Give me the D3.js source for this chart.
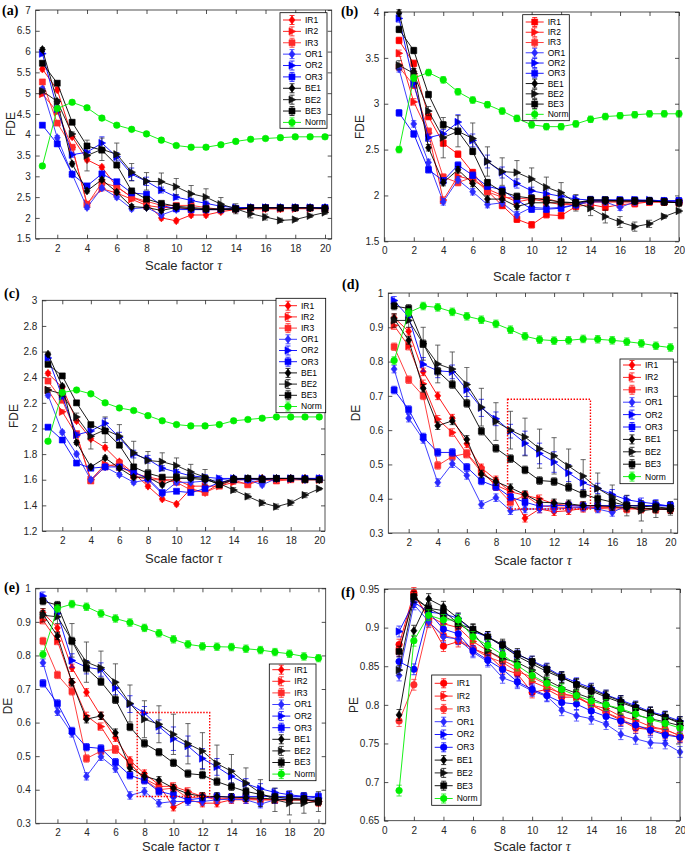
<!DOCTYPE html>
<html><head><meta charset="utf-8">
<script src="https://cdn.jsdelivr.net/npm/d3@7"></script>
<style>body{margin:0;background:#fff}svg{display:block}</style>
</head><body>
<svg id="chart" width="685" height="855"></svg>
<script>
// ---------- shared ----------
const tau = [1,2,3,4,5,6,7,8,9,10,11,12,13,14,15,16,17,18,19,20];
const seriesNames = ["IR1","IR2","IR3","OR1","OR2","OR3","BE1","BE2","BE3","Norm"];
const seriesColors = ["#ff0000","#ff1010","#ff2a2a","#2a2aff","#0000ff","#0000ff","#000000","#111111","#000000","#00ee00"];
const panelLabels = ["(a)","(b)","(c)","(d)","(e)","(f)"];
const yLabels = ["FDE","FDE","FDE","DE","DE","PE"];
const xTicksA = [2,4,6,8,10,12,14,16,18,20];
const xTicksB = [0,2,4,6,8,10,12,14,16,18,20];
const yTicksA = [1.5,2,2.5,3,3.5,4,4.5,5,5.5,6,6.5,7];
const yTicksB = [1.5,2,2.5,3,3.5,4];
const yTicksC = [1.2,1.4,1.6,1.8,2,2.2,2.4,2.6,2.8,3];
const yTicksDE = [0.3,0.4,0.5,0.6,0.7,0.8,0.9,1];
const yTicksF = [0.65,0.7,0.75,0.8,0.85,0.9,0.95];

// ---------- panel (a) ----------
const A_IR1 = [5.58,5.08,3.95,3.4,3.22,2.75,2.5,2.35,2.0,1.93,2.07,2.07,2.15,2.2,2.22,2.22,2.22,2.24,2.24,2.24];
const A_IR2 = [4.98,4.55,3.7,2.35,2.7,2.6,2.45,2.3,2.25,2.25,2.22,2.2,2.2,2.22,2.22,2.22,2.22,2.22,2.22,2.22];
const A_IR3 = [5.27,4.28,3.7,2.32,2.85,2.75,2.5,2.4,2.3,2.3,2.3,2.25,2.2,2.22,2.25,2.25,2.22,2.24,2.24,2.22];
const A_OR1 = [5.1,3.93,3.05,2.25,2.72,2.5,2.22,2.25,2.07,2.2,2.2,2.2,2.2,2.22,2.25,2.25,2.25,2.25,2.25,2.25];
const A_OR2 = [5.95,4.62,3.52,3.58,3.8,3.47,3.05,2.88,2.67,2.5,2.42,2.35,2.28,2.25,2.25,2.25,2.25,2.25,2.25,2.23];
const A_OR3 = [4.23,3.78,3.05,2.77,3.06,2.87,2.6,2.57,2.3,2.22,2.2,2.2,2.2,2.22,2.25,2.25,2.25,2.25,2.25,2.25];
const A_BE1 = [6.05,4.8,3.3,2.65,2.92,2.62,2.27,2.25,2.18,2.25,2.22,2.2,2.2,2.2,2.24,2.24,2.24,2.24,2.24,2.24];
const A_BE2 = [5.05,4.8,4.02,3.5,3.65,3.53,3.1,2.88,2.87,2.75,2.58,2.5,2.33,2.22,2.1,2.02,1.94,1.96,2.05,2.13];
const A_BE3 = [5.72,5.24,4.3,3.73,3.63,3.27,2.65,2.45,2.35,2.28,2.25,2.22,2.22,2.22,2.24,2.24,2.24,2.24,2.24,2.22];
const A_Norm = [3.25,4.63,4.78,4.65,4.4,4.23,4.13,4.02,3.87,3.74,3.7,3.7,3.76,3.84,3.89,3.91,3.93,3.95,3.95,3.95];
const A_errOR2 = [0.05,0.05,0.06,0.1,0.15,0.1,0.15,0.1,0.07,0.06,0.05,0.05,0.05,0.05,0.05,0.05,0.05,0.05,0.05,0.05];
const A_errBE2 = [0.05,0.05,0.05,0.37,0.27,0.27,0.21,0.21,0.21,0.2,0.2,0.2,0.16,0.12,0.1,0.07,0.05,0.04,0.04,0.04];
const A_errSmall = 0.05;

// ---------- panel (b) ----------
const B_IR1 = [3.69,3.44,2.86,2.57,2.45,2.25,2.05,1.89,1.74,1.68,1.79,1.78,1.88,1.9,1.87,1.9,1.91,1.93,1.93,1.93];
const B_IR2 = [3.55,3.02,2.68,1.95,2.21,2.17,2.07,2.0,1.93,1.96,1.93,1.9,1.9,1.93,1.93,1.93,1.93,1.93,1.93,1.92];
const B_IR3 = [3.4,3.2,2.7,2.2,2.14,2.2,2.04,1.98,1.97,1.96,1.97,1.92,1.9,1.93,1.93,1.93,1.93,1.93,1.93,1.93];
const B_OR1 = [3.38,2.78,2.36,1.93,2.17,2.04,1.9,1.92,1.79,1.87,1.86,1.87,1.9,1.93,1.93,1.87,1.93,1.94,1.94,1.94];
const B_OR2 = [3.93,3.22,2.63,2.67,2.8,2.6,2.37,2.25,2.13,2.05,2.02,1.99,1.96,1.95,1.95,1.95,1.95,1.95,1.94,1.94];
const B_OR3 = [2.9,2.67,2.28,2.16,2.33,2.22,2.1,2.06,1.95,1.85,1.85,1.86,1.9,1.95,1.95,1.95,1.95,1.94,1.94,1.94];
const B_BE1 = [3.99,3.35,2.52,2.14,2.28,2.13,1.96,1.96,1.88,1.92,1.92,1.92,1.92,1.94,1.94,1.94,1.94,1.94,1.93,1.92];
const B_BE2 = [3.42,3.33,2.92,2.63,2.7,2.62,2.37,2.26,2.25,2.18,2.09,2.03,1.92,1.86,1.77,1.71,1.66,1.69,1.77,1.83];
const B_BE3 = [3.81,3.58,3.1,2.77,2.7,2.48,2.14,2.04,1.99,1.97,1.95,1.93,1.92,1.95,1.95,1.94,1.94,1.94,1.93,1.92];
const B_Norm = [2.5,3.28,3.34,3.26,3.13,3.04,2.99,2.92,2.84,2.77,2.75,2.75,2.78,2.83,2.86,2.87,2.88,2.89,2.89,2.89];
const B_errOR2 = [0.04,0.04,0.04,0.05,0.08,0.07,0.07,0.06,0.05,0.04,0.04,0.04,0.04,0.04,0.03,0.03,0.03,0.03,0.03,0.03];
const B_errBE2 = [0.05,0.05,0.05,0.22,0.17,0.17,0.16,0.15,0.13,0.12,0.11,0.11,0.09,0.08,0.07,0.06,0.05,0.04,0.02,0.02];
const B_errSmall = 0.035;

// ---------- panel (c) ----------
const C_IR1 = [2.43,2.32,2.06,1.92,1.85,1.74,1.65,1.55,1.45,1.41,1.53,1.5,1.57,1.6,1.6,1.61,1.6,1.61,1.61,1.61];
const C_IR2 = [2.3,2.13,1.95,1.6,1.72,1.7,1.65,1.62,1.6,1.6,1.55,1.55,1.55,1.58,1.57,1.6,1.6,1.6,1.6,1.6];
const C_IR3 = [2.37,2.22,1.96,1.59,1.7,1.73,1.63,1.6,1.6,1.58,1.52,1.5,1.55,1.6,1.56,1.6,1.59,1.6,1.6,1.6];
const C_OR1 = [2.26,1.97,1.8,1.6,1.7,1.64,1.58,1.6,1.49,1.58,1.58,1.59,1.6,1.61,1.6,1.56,1.61,1.61,1.6,1.61];
const C_OR2 = [2.55,2.25,1.95,1.98,2.04,1.93,1.8,1.76,1.69,1.66,1.63,1.62,1.61,1.61,1.61,1.61,1.61,1.61,1.61,1.61];
const C_OR3 = [2.01,1.91,1.73,1.69,1.7,1.7,1.66,1.61,1.5,1.51,1.5,1.53,1.58,1.6,1.6,1.6,1.61,1.61,1.61,1.61];
const C_BE1 = [2.58,2.33,1.89,1.7,1.77,1.69,1.62,1.62,1.56,1.61,1.61,1.6,1.57,1.61,1.61,1.61,1.61,1.61,1.61,1.6];
const C_BE2 = [2.3,2.27,2.09,1.94,1.99,1.94,1.81,1.75,1.74,1.71,1.66,1.62,1.57,1.52,1.47,1.42,1.39,1.42,1.48,1.53];
const C_BE3 = [2.5,2.41,2.2,2.03,1.98,1.87,1.7,1.65,1.62,1.62,1.62,1.61,1.56,1.6,1.61,1.6,1.61,1.61,1.6,1.6];
const C_Norm = [1.9,2.28,2.3,2.27,2.2,2.16,2.14,2.1,2.06,2.03,2.02,2.02,2.03,2.06,2.07,2.08,2.09,2.09,2.09,2.09];
const C_errOR2 = [0.02,0.02,0.02,0.03,0.04,0.04,0.03,0.03,0.02,0.02,0.02,0.02,0.02,0.02,0.02,0.02,0.02,0.02,0.02,0.02];
const C_errBE2 = [0.02,0.02,0.03,0.1,0.1,0.09,0.09,0.07,0.07,0.06,0.06,0.06,0.03,0.02,0.02,0.02,0.02,0.02,0.02,0.01];
const C_errSmall = 0.015;

// ---------- panel (d) ----------
const D_IR1 = [0.928,0.888,0.77,0.7,0.635,0.56,0.49,0.455,0.42,0.343,0.37,0.362,0.365,0.372,0.375,0.375,0.372,0.372,0.37,0.368];
const D_IR2 = [0.905,0.845,0.735,0.632,0.593,0.53,0.478,0.44,0.42,0.41,0.4,0.385,0.38,0.38,0.378,0.375,0.372,0.37,0.37,0.37];
const D_IR3 = [0.843,0.747,0.7,0.497,0.523,0.532,0.485,0.435,0.39,0.41,0.38,0.375,0.375,0.375,0.372,0.37,0.37,0.37,0.37,0.37];
const D_OR1 = [0.778,0.635,0.573,0.447,0.502,0.468,0.383,0.403,0.365,0.37,0.37,0.37,0.372,0.375,0.37,0.36,0.38,0.38,0.38,0.378];
const D_OR2 = [0.978,0.93,0.792,0.773,0.77,0.718,0.665,0.633,0.597,0.562,0.532,0.507,0.475,0.447,0.43,0.412,0.397,0.39,0.385,0.378];
const D_OR3 = [0.717,0.66,0.58,0.535,0.535,0.492,0.452,0.435,0.405,0.39,0.378,0.38,0.38,0.378,0.38,0.38,0.38,0.38,0.38,0.38];
const D_BE1 = [0.925,0.862,0.722,0.613,0.627,0.573,0.472,0.45,0.432,0.412,0.39,0.388,0.385,0.38,0.38,0.377,0.375,0.373,0.37,0.368];
const D_BE2 = [0.92,0.92,0.852,0.793,0.778,0.733,0.667,0.625,0.6,0.58,0.546,0.525,0.495,0.466,0.43,0.405,0.38,0.365,0.37,0.372];
const D_BE3 = [0.962,0.955,0.852,0.772,0.733,0.678,0.597,0.547,0.517,0.484,0.453,0.45,0.433,0.414,0.4,0.39,0.38,0.378,0.376,0.372];
const D_Norm = [0.803,0.943,0.962,0.958,0.945,0.932,0.922,0.91,0.893,0.874,0.864,0.861,0.862,0.866,0.865,0.862,0.858,0.853,0.846,0.841];
const D_errOR2 = [0.012,0.012,0.02,0.02,0.02,0.02,0.025,0.02,0.02,0.035,0.03,0.03,0.025,0.02,0.015,0.015,0.012,0.012,0.012,0.012];
const D_errBE2 = [0.02,0.02,0.048,0.055,0.05,0.05,0.055,0.055,0.055,0.055,0.057,0.053,0.05,0.048,0.045,0.035,0.03,0.03,0.025,0.02];
const D_errSmall = 0.011;
const D_zoomBox = [8.8,14.5,0.37,0.69];

// ---------- panel (e) ----------
const E_IR1 = [0.928,0.882,0.763,0.69,0.62,0.555,0.487,0.448,0.415,0.348,0.37,0.36,0.36,0.37,0.37,0.37,0.37,0.37,0.37,0.362];
const E_IR2 = [0.905,0.843,0.72,0.62,0.588,0.52,0.478,0.433,0.41,0.41,0.395,0.38,0.375,0.375,0.375,0.372,0.37,0.37,0.37,0.365];
const E_IR3 = [0.843,0.742,0.693,0.493,0.515,0.52,0.48,0.43,0.4,0.405,0.375,0.38,0.37,0.375,0.375,0.37,0.37,0.37,0.37,0.365];
const E_OR1 = [0.778,0.632,0.568,0.44,0.498,0.463,0.383,0.395,0.36,0.365,0.365,0.365,0.37,0.372,0.37,0.357,0.37,0.375,0.375,0.37];
const E_OR2 = [0.977,0.925,0.785,0.765,0.758,0.703,0.655,0.628,0.588,0.552,0.53,0.493,0.468,0.44,0.418,0.403,0.392,0.385,0.38,0.375];
const E_OR3 = [0.717,0.657,0.575,0.527,0.523,0.482,0.443,0.428,0.395,0.385,0.37,0.375,0.38,0.378,0.38,0.38,0.38,0.38,0.38,0.38];
const E_BE1 = [0.923,0.858,0.72,0.61,0.62,0.57,0.465,0.44,0.428,0.405,0.388,0.38,0.38,0.378,0.376,0.375,0.372,0.37,0.37,0.365];
const E_BE2 = [0.92,0.915,0.845,0.78,0.763,0.72,0.657,0.61,0.595,0.565,0.537,0.515,0.478,0.455,0.42,0.39,0.37,0.36,0.36,0.365];
const E_BE3 = [0.962,0.95,0.843,0.762,0.722,0.668,0.587,0.538,0.512,0.48,0.448,0.444,0.424,0.409,0.395,0.386,0.378,0.375,0.372,0.365];
const E_Norm = [0.803,0.94,0.953,0.945,0.925,0.91,0.898,0.882,0.866,0.848,0.833,0.827,0.826,0.825,0.82,0.816,0.81,0.805,0.797,0.792];
const E_errOR2 = [0.012,0.012,0.02,0.02,0.02,0.02,0.025,0.02,0.02,0.035,0.03,0.03,0.025,0.02,0.015,0.015,0.012,0.012,0.012,0.012];
const E_errBE2 = [0.02,0.02,0.05,0.06,0.05,0.055,0.055,0.055,0.055,0.06,0.06,0.055,0.055,0.05,0.045,0.04,0.035,0.035,0.03,0.03];
const E_errSmall = 0.011;
const E_zoomBox = [7.5,12.5,0.38,0.63];

// ---------- panel (f) ----------
const F_IR1 = [0.878,0.945,0.91,0.876,0.882,0.873,0.865,0.847,0.84,0.816,0.82,0.81,0.81,0.8,0.79,0.78,0.77,0.768,0.763,0.758];
const F_IR2 = [0.87,0.942,0.915,0.905,0.9,0.882,0.87,0.858,0.848,0.83,0.822,0.815,0.81,0.8,0.795,0.785,0.78,0.772,0.768,0.76];
const F_IR3 = [0.779,0.826,0.907,0.89,0.885,0.873,0.862,0.855,0.843,0.836,0.826,0.813,0.812,0.8,0.79,0.782,0.772,0.77,0.768,0.76];
const F_OR1 = [0.838,0.93,0.908,0.888,0.885,0.868,0.856,0.835,0.828,0.818,0.811,0.793,0.786,0.782,0.775,0.762,0.756,0.751,0.75,0.739];
const F_OR2 = [0.895,0.933,0.92,0.918,0.912,0.895,0.888,0.876,0.865,0.857,0.848,0.837,0.829,0.822,0.813,0.806,0.799,0.791,0.786,0.779];
const F_OR3 = [0.856,0.846,0.92,0.898,0.892,0.87,0.858,0.846,0.83,0.82,0.812,0.803,0.801,0.792,0.785,0.779,0.774,0.767,0.761,0.758];
const F_BE1 = [0.787,0.896,0.937,0.927,0.912,0.897,0.888,0.876,0.863,0.853,0.843,0.835,0.827,0.82,0.812,0.805,0.797,0.79,0.784,0.778];
const F_BE2 = [0.845,0.938,0.925,0.915,0.905,0.893,0.87,0.86,0.855,0.845,0.832,0.822,0.815,0.808,0.8,0.793,0.787,0.782,0.778,0.773];
const F_BE3 = [0.869,0.94,0.925,0.922,0.905,0.898,0.888,0.878,0.866,0.856,0.846,0.836,0.826,0.818,0.81,0.803,0.796,0.79,0.784,0.776];
const F_Norm = [0.689,0.883,0.916,0.91,0.91,0.888,0.877,0.865,0.851,0.838,0.828,0.82,0.812,0.805,0.8,0.795,0.788,0.781,0.776,0.77];
const F_errOR2 = [0.007,0.007,0.006,0.006,0.006,0.006,0.006,0.006,0.006,0.006,0.006,0.006,0.006,0.006,0.006,0.006,0.006,0.006,0.006,0.006];
const F_errBE2 = [0.006,0.006,0.006,0.006,0.006,0.006,0.006,0.006,0.006,0.006,0.006,0.006,0.006,0.006,0.006,0.006,0.006,0.006,0.006,0.006];
const F_errSmall = 0.007;

// ---------- layout ----------
const panels = [
  {label:0, data:[A_IR1,A_IR2,A_IR3,A_OR1,A_OR2,A_OR3,A_BE1,A_BE2,A_BE3,A_Norm], eOR2:A_errOR2, eBE2:A_errBE2, eS:A_errSmall,
   shapes:"dtsdtsdtsc", xd:[0.55,20.45], yd:[1.5,7], xt:xTicksA, yt:yTicksA, box:{l:35.7,r:331.7,t:10,b:238.7},
   leg:{x:280,y:12.7,w:47,h:115.6,y0:20,step:11.38}, lab:[2,15], ylab:[11,124], xlabY:270},
  {label:1, data:[B_IR1,B_IR2,B_IR3,B_OR1,B_OR2,B_OR3,B_BE1,B_BE2,B_BE3,B_Norm], eOR2:B_errOR2, eBE2:B_errBE2, eS:B_errSmall,
   shapes:"stsdtsdtsc", xd:[0,20], yd:[1.5,4], xt:xTicksB, yt:yTicksB, box:{l:384.3,r:679,t:12,b:241.3},
   leg:{x:522.7,y:14.7,w:46.6,h:106,y0:22,step:10.26}, lab:[341,16], ylab:[360,127], xlabY:281},
  {label:2, data:[C_IR1,C_IR2,C_IR3,C_OR1,C_OR2,C_OR3,C_BE1,C_BE2,C_BE3,C_Norm], eOR2:C_errOR2, eBE2:C_errBE2, eS:C_errSmall,
   shapes:"dtsdtsdtsc", xd:[0.6,20.4], yd:[1.2,3], xt:xTicksA, yt:yTicksC, box:{l:42.3,r:325,t:300.3,b:531},
   leg:{x:276,y:298.3,w:49.7,h:114.4,y0:305.7,step:11.2}, lab:[4,298], ylab:[14,416], xlabY:563},
  {label:3, data:[D_IR1,D_IR2,D_IR3,D_OR1,D_OR2,D_OR3,D_BE1,D_BE2,D_BE3,D_Norm], eOR2:D_errOR2, eBE2:D_errBE2, eS:D_errSmall,
   shapes:"dtsdtsdtsc", xd:[0.6,20.5], yd:[0.3,1], xt:xTicksA, yt:yTicksDE, box:{l:388.3,r:677.7,t:293,b:533},
   leg:{x:620,y:359,w:53.3,h:124.7,y0:365,step:12.4}, lab:[342,289], ylab:[356,413], xlabY:565, zoom:D_zoomBox},
  {label:4, data:[E_IR1,E_IR2,E_IR3,E_OR1,E_OR2,E_OR3,E_BE1,E_BE2,E_BE3,E_Norm], eOR2:E_errOR2, eBE2:E_errBE2, eS:E_errSmall,
   shapes:"dtsdtsdtsc", xd:[0.5,20.5], yd:[0.3,1], xt:xTicksA, yt:yTicksDE, box:{l:35.7,r:325.7,t:588.3,b:823.3},
   leg:{x:269.3,y:664,w:46.7,h:116.7,y0:669.7,step:11.6}, lab:[4,592], ylab:[8,706], xlabY:851, zoom:E_zoomBox},
  {label:5, data:[F_IR1,F_IR2,F_IR3,F_OR1,F_OR2,F_OR3,F_BE1,F_BE2,F_BE3,F_Norm], eOR2:F_errOR2, eBE2:F_errBE2, eS:F_errSmall,
   shapes:"ctcdtcdtsc", xd:[0,20], yd:[0.65,0.95], xt:xTicksB, yt:yTicksF, box:{l:384.3,r:680,t:589,b:820.7},
   leg:{x:431.7,y:675,w:49.3,h:130.3,y0:683.3,step:12.8}, lab:[341,597], ylab:[354,705], xlabY:851}
];

const svg = d3.select("#chart");
const SANS = "Arial, 'Liberation Sans', Helvetica, sans-serif";
const SERIF = "'Times New Roman', 'Liberation Serif', serif";
const AX = "#262626";
const fmt = v => String(+v.toFixed(2));

function shapePath(s){
  if (s === "d") return "M0,-4L3,0L0,4L-3,0Z";
  if (s === "t") return "M-3,-3.7L3.8,0L-3,3.7Z";
  if (s === "s") return "M-3,-3H3V3H-3Z";
  return d3.symbol(d3.symbolCircle, 34)();
}

function drawPanel(p){
  const b = p.box;
  const x = d3.scaleLinear().domain(p.xd).range([b.l, b.r]);
  const y = d3.scaleLinear().domain(p.yd).range([b.b, b.t]);
  const g = svg.append("g");

  g.append("rect").attr("x",b.l).attr("y",b.t).attr("width",b.r-b.l).attr("height",b.b-b.t)
    .attr("fill","#fff").attr("stroke","none");

  const styleAxis = sel => {
    sel.select(".domain").remove();
    sel.selectAll(".tick line").attr("stroke",AX).attr("stroke-width",0.8);
    sel.selectAll(".tick text").attr("fill",AX).attr("font-family",SANS).attr("font-size","10px");
  };
  g.append("g").attr("transform",`translate(0,${b.b})`)
    .call(d3.axisBottom(x).tickValues(p.xt).tickSize(-4).tickPadding(6).tickFormat(fmt)).call(styleAxis);
  g.append("g").attr("transform",`translate(0,${b.t})`)
    .call(d3.axisTop(x).tickValues(p.xt).tickSize(-4).tickFormat("")).call(styleAxis);
  g.append("g").attr("transform",`translate(${b.l},0)`)
    .call(d3.axisLeft(y).tickValues(p.yt).tickSize(-4).tickPadding(5).tickFormat(fmt)).call(styleAxis);
  g.append("g").attr("transform",`translate(${b.r},0)`)
    .call(d3.axisRight(y).tickValues(p.yt).tickSize(-4).tickFormat("")).call(styleAxis);

  const line = d3.line().x((d,i)=>x(tau[i])).y(d=>y(d));

  p.data.forEach((vals, si) => {
    const col = seriesColors[si];
    const err = si === 4 ? p.eOR2 : (si === 7 ? p.eBE2 : null);
    const sg = g.append("g");
    sg.append("path").datum(vals).attr("d",line).attr("fill","none").attr("stroke",col).attr("stroke-width",0.9);
    vals.forEach((v,i) => {
      const e = err ? err[i] : p.eS;
      const cx = x(tau[i]), y1 = y(v - e), y2 = y(v + e);
      const eg = sg.append("g").attr("stroke", col).attr("stroke-width",0.8).attr("opacity", si===7?0.8:0.9);
      eg.append("line").attr("x1",cx).attr("x2",cx).attr("y1",y1).attr("y2",y2);
      eg.append("line").attr("x1",cx-2.6).attr("x2",cx+2.6).attr("y1",y1).attr("y2",y1);
      eg.append("line").attr("x1",cx-2.6).attr("x2",cx+2.6).attr("y1",y2).attr("y2",y2);
    });
    sg.selectAll("path.m").data(vals).join("path").attr("class","m")
      .attr("d", shapePath(p.shapes[si]))
      .attr("transform",(d,i)=>`translate(${x(tau[i])},${y(d)})`)
      .attr("fill",col).attr("stroke",col).attr("stroke-width",0.6);
  });

  if (p.zoom){
    const z = p.zoom;
    g.append("rect").attr("x",x(z[0])).attr("y",y(z[3])).attr("width",x(z[1])-x(z[0])).attr("height",y(z[2])-y(z[3]))
      .attr("fill","none").attr("stroke","#ff0000").attr("stroke-width",1.4).attr("stroke-dasharray","1.5,1.5");
  }

  g.append("rect").attr("x",b.l).attr("y",b.t).attr("width",b.r-b.l).attr("height",b.b-b.t)
    .attr("fill","none").attr("stroke",AX).attr("stroke-width",0.8);

  // legend
  const L = p.leg;
  const lg = g.append("g");
  lg.append("rect").attr("x",L.x).attr("y",L.y).attr("width",L.w).attr("height",L.h)
    .attr("fill","#fff").attr("stroke","#000").attr("stroke-width",0.8);
  seriesNames.forEach((nm, si) => {
    const yy = L.y0 + si*L.step, col = seriesColors[si], mx = L.x + 12;
    lg.append("line").attr("x1",L.x+3).attr("x2",L.x+21).attr("y1",yy).attr("y2",yy).attr("stroke",col).attr("stroke-width",0.9);
    lg.append("line").attr("x1",mx).attr("x2",mx).attr("y1",yy-4.5).attr("y2",yy+4.5).attr("stroke",col).attr("stroke-width",0.8);
    lg.append("line").attr("x1",mx-2.5).attr("x2",mx+2.5).attr("y1",yy-4.5).attr("y2",yy-4.5).attr("stroke",col).attr("stroke-width",0.8);
    lg.append("line").attr("x1",mx-2.5).attr("x2",mx+2.5).attr("y1",yy+4.5).attr("y2",yy+4.5).attr("stroke",col).attr("stroke-width",0.8);
    lg.append("path").attr("d",shapePath(p.shapes[si])).attr("transform",`translate(${mx},${yy})`).attr("fill",col).attr("stroke",col).attr("stroke-width",0.6);
    lg.append("text").attr("x",L.x+25).attr("y",yy).attr("dy","0.35em").attr("font-family",SANS).attr("font-size","8.5px").attr("fill","#000").text(nm);
  });

  // labels
  g.append("text").attr("x",p.lab[0]).attr("y",p.lab[1]).attr("font-family",SERIF).attr("font-weight","bold")
    .attr("font-size","14px").attr("fill","#000").text(panelLabels[p.label]);
  g.append("text").attr("transform",`translate(${p.ylab[0]},${p.ylab[1]}) rotate(-90)`).attr("text-anchor","middle")
    .attr("dy","0.35em").attr("font-family",SANS).attr("font-size","12px").attr("fill",AX).text(yLabels[p.label]);
  const xt = g.append("text").attr("x",(b.l+b.r)/2).attr("y",p.xlabY).attr("text-anchor","middle")
    .attr("font-family",SANS).attr("font-size","13px").attr("fill",AX);
  xt.append("tspan").text("Scale factor ");
  xt.append("tspan").attr("font-family",SERIF).attr("font-style","italic").attr("font-size","14px").text("τ");
}

panels.forEach(drawPanel);
</script>
</body></html>
